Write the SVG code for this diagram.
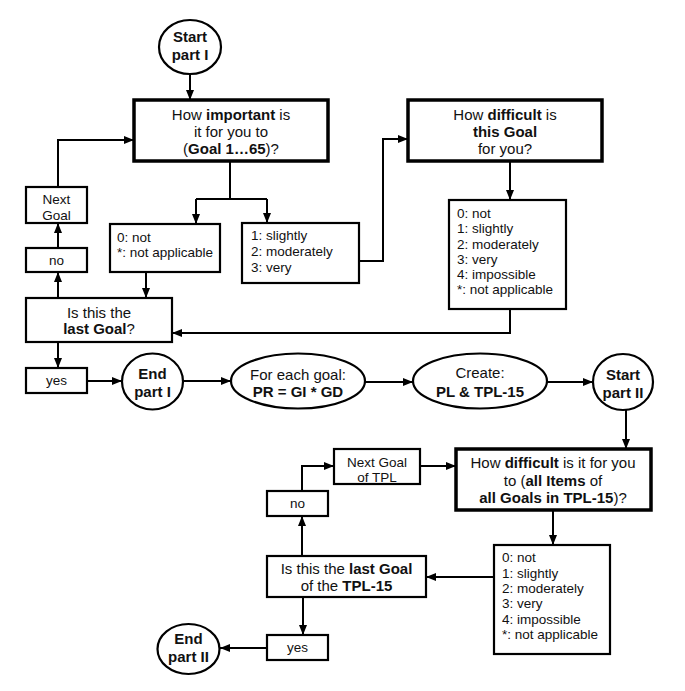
<svg xmlns="http://www.w3.org/2000/svg" width="685" height="691" viewBox="0 0 685 691">
<defs>
<marker id="ah" markerUnits="userSpaceOnUse" markerWidth="10" markerHeight="10" viewBox="0 0 10 10" refX="10" refY="5" orient="auto">
<path d="M0,1 L10,5 L0,9 Z" fill="#000"/>
</marker>
</defs>
<style>
text{font-family:"Liberation Sans",Arial,sans-serif;fill:#111;}
.q{font-size:15px;text-anchor:middle;}
.s{font-size:13.5px;}
.sc{font-size:13.5px;text-anchor:middle;}
.b{font-weight:bold;}
.thick{fill:#fff;stroke:#000;stroke-width:3.5;}
.box{fill:#fff;stroke:#000;stroke-width:2.2;}
.ov{fill:#fff;stroke:#000;stroke-width:2.2;}
.c{fill:none;stroke:#000;stroke-width:2;}
.a{fill:none;stroke:#000;stroke-width:2;marker-end:url(#ah);}
</style>
<rect width="685" height="691" fill="#fff"/>

<g id="connectors">
<path class="a" d="M190,74 L190,100"/>
<path class="c" d="M230,161 L230,199"/>
<path class="c" d="M196,199 L267,199"/>
<path class="a" d="M196,199 L196,224"/>
<path class="a" d="M267,199 L267,223"/>
<path class="a" d="M146,272 L146,298"/>
<path class="a" d="M359,261 L383,261 L383,139 L408,139"/>
<path class="a" d="M510,161 L510,200"/>
<path class="a" d="M510,309 L510,333 L172,333"/>
<path class="a" d="M58,298 L58,272"/>
<path class="a" d="M58,248 L58,223"/>
<path class="a" d="M58,187 L58,140 L134,140"/>
<path class="a" d="M58,342 L58,368"/>
<path class="a" d="M87,381 L122,381"/>
<path class="a" d="M183,381 L231,381"/>
<path class="a" d="M365,382 L413,382"/>
<path class="a" d="M547,382 L593,382"/>
<path class="a" d="M626,410 L626,449"/>
<path class="a" d="M553,510 L553,545"/>
<path class="a" d="M494,577 L426,577"/>
<path class="a" d="M302,556 L302,516"/>
<path class="a" d="M302,491 L302,466 L334,466"/>
<path class="a" d="M420,466 L456,466"/>
<path class="a" d="M303,597 L303,635"/>
<path class="a" d="M267,648 L220,648"/>
</g>

<g id="start1">
<ellipse class="ov" cx="190" cy="47" rx="31" ry="27"/>
<text class="q b" x="190" y="42">Start</text>
<text class="q b" x="190" y="60">part I</text>
</g>

<g id="important">
<rect class="thick" x="134" y="100" width="194" height="61"/>
<text class="q" x="231" y="119.5">How <tspan class="b">important</tspan> is</text>
<text class="q" x="231" y="136.5">it for you to</text>
<text class="q" x="231" y="153.5">(<tspan class="b">Goal 1…65</tspan>)?</text>
</g>

<g id="ans-not">
<rect class="box" x="110" y="224" width="110" height="48"/>
<text class="s" x="117" y="241.5">0: not</text>
<text class="s" x="117" y="256.5">*: not applicable</text>
</g>

<g id="ans-slightly">
<rect class="box" x="242" y="223" width="117" height="60"/>
<text class="s" x="251" y="239.5">1: slightly</text>
<text class="s" x="251" y="255.5">2: moderately</text>
<text class="s" x="251" y="271.5">3: very</text>
</g>

<g id="difficult1">
<rect class="thick" x="408" y="100" width="194" height="61"/>
<text class="q" x="505" y="119.5">How <tspan class="b">difficult</tspan> is</text>
<text class="q b" x="505" y="136.5">this Goal</text>
<text class="q" x="505" y="153.5">for you?</text>
</g>

<g id="ans-diff1">
<rect class="box" x="449" y="200" width="117" height="109"/>
<text class="s" x="457" y="218">0: not</text>
<text class="s" x="457" y="233">1: slightly</text>
<text class="s" x="457" y="248.5">2: moderately</text>
<text class="s" x="457" y="264">3: very</text>
<text class="s" x="457" y="279">4: impossible</text>
<text class="s" x="457" y="294">*: not applicable</text>
</g>

<g id="nextgoal1">
<rect class="box" x="26" y="187" width="61" height="36"/>
<text class="sc" x="56.5" y="203.5">Next</text>
<text class="sc" x="56.5" y="219.5">Goal</text>
</g>

<g id="no1">
<rect class="box" x="26" y="248" width="61" height="24"/>
<text class="sc" x="56.5" y="264.5">no</text>
</g>

<g id="lastgoal1">
<rect class="box" x="26" y="298" width="146" height="44"/>
<text class="q" x="99" y="318">Is this the</text>
<text class="q" x="99" y="334"><tspan class="b">last Goal</tspan>?</text>
</g>

<g id="yes1">
<rect class="box" x="26" y="368" width="61" height="25"/>
<text class="sc" x="56.5" y="385">yes</text>
</g>

<g id="end1">
<ellipse class="ov" cx="152.5" cy="381.5" rx="30.5" ry="28"/>
<text class="q b" x="152.5" y="379">End</text>
<text class="q b" x="152.5" y="397">part I</text>
</g>

<g id="foreach">
<ellipse class="ov" cx="298" cy="381" rx="67" ry="27.5"/>
<text class="q" x="298" y="380">For each goal:</text>
<text class="q b" x="298" y="397">PR = GI * GD</text>
</g>

<g id="create">
<ellipse class="ov" cx="480" cy="381" rx="67" ry="27.5"/>
<text class="q" x="480" y="378">Create:</text>
<text class="q b" x="480" y="397">PL &amp; TPL-15</text>
</g>

<g id="start2">
<ellipse class="ov" cx="623" cy="382" rx="30" ry="28"/>
<text class="q b" x="623" y="380">Start</text>
<text class="q b" x="623" y="398">part II</text>
</g>

<g id="difficult2">
<rect class="thick" x="456" y="449" width="195" height="61"/>
<text class="q" x="553" y="468">How <tspan class="b">difficult</tspan> is it for you</text>
<text class="q" x="553" y="486">to (<tspan class="b">all Items</tspan> of</text>
<text class="q" x="553" y="503"><tspan class="b">all Goals in TPL-15</tspan>)?</text>
</g>

<g id="ans-diff2">
<rect class="box" x="494" y="545" width="116" height="109"/>
<text class="s" x="502" y="562">0: not</text>
<text class="s" x="502" y="578">1: slightly</text>
<text class="s" x="502" y="593">2: moderately</text>
<text class="s" x="502" y="608">3: very</text>
<text class="s" x="502" y="623.5">4: impossible</text>
<text class="s" x="502" y="638.5">*: not applicable</text>
</g>

<g id="nextgoal2">
<rect class="box" x="334" y="449" width="86" height="35"/>
<text class="sc" x="377" y="466.5">Next Goal</text>
<text class="sc" x="377" y="481.5">of TPL</text>
</g>

<g id="no2">
<rect class="box" x="267" y="491" width="61" height="25"/>
<text class="sc" x="297.5" y="508">no</text>
</g>

<g id="lastgoal2">
<rect class="box" x="267" y="556" width="159" height="41"/>
<text class="q" x="346.5" y="574">Is this the <tspan class="b">last Goal</tspan></text>
<text class="q" x="346.5" y="591">of the <tspan class="b">TPL-15</tspan></text>
</g>

<g id="yes2">
<rect class="box" x="267" y="635" width="61" height="25"/>
<text class="sc" x="297.5" y="652">yes</text>
</g>

<g id="end2">
<ellipse class="ov" cx="188.5" cy="649" rx="31" ry="25"/>
<text class="q b" x="188.5" y="644">End</text>
<text class="q b" x="188.5" y="662">part II</text>
</g>
</svg>
